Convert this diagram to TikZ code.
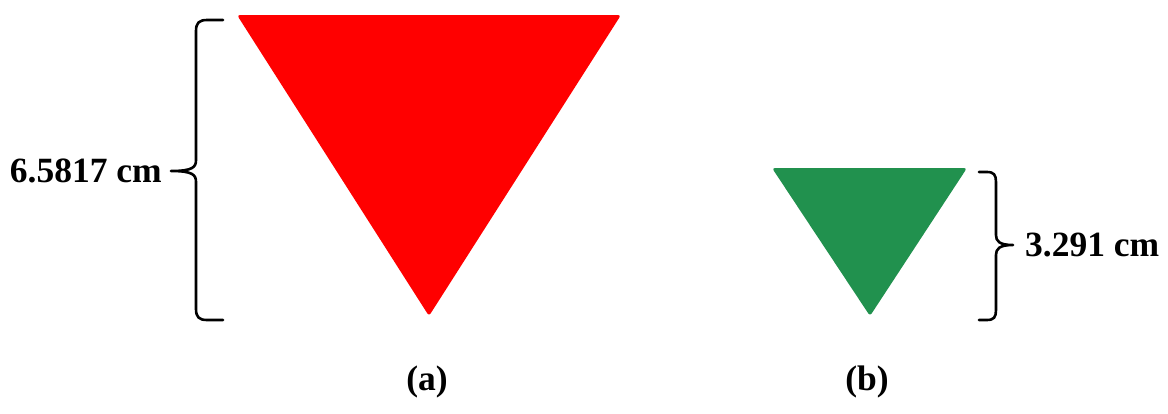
\documentclass[tikz,border=0pt]{standalone}
\usepackage{fontspec}
\setmainfont{Liberation Serif}
\definecolor{tred}{RGB}{255,0,0}
\definecolor{tgreen}{RGB}{33,145,78}
\begin{document}
\begin{tikzpicture}[x=1pt,y=-1pt,
  tri/.style={rounded corners=3pt},
  brc/.style={draw=black,line width=2.6pt,line cap=round,line join=round},
  lbl/.style={inner sep=0pt,font=\bfseries\fontsize{35.5}{40}\selectfont}]
\useasboundingbox (0,0) rectangle (1168,413);
% triangles
\fill[tred,tri] (237,15) -- (621,15) -- (429,316) -- cycle;
\fill[tgreen,tri] (772,168) -- (967,168) -- (870,316) -- cycle;
% left brace
\coordinate (la) at (223,20);
\coordinate (lt) at (171,171);
\coordinate (lb) at (223,320);
\draw[brc] (la) -- (207,20) .. controls (199,20) and (196,23) .. (196,31)
  -- (196,160) .. controls (196,167) and (193,171) .. (lt)
  .. controls (193,171) and (196,175) .. (196,182)
  -- (196,309) .. controls (196,317) and (199,320) .. (207,320) -- (lb);
% right brace
\coordinate (ra) at (979,172);
\coordinate (rt) at (1013,245);
\coordinate (rb) at (979,320);
\draw[brc] (ra) -- (987,172) .. controls (994,172) and (996,175) .. (996,182)
  -- (996,235) .. controls (996,241) and (999,245) .. (rt)
  .. controls (999,245) and (996,249) .. (996,255)
  -- (996,310) .. controls (996,317) and (994,320) .. (987,320) -- (rb);
% labels
\node[lbl,anchor=east] (h1) at (162,171) {6.5817 cm};
\node[lbl,anchor=west] (h2) at (1025,245) {3.291 cm};
\node[lbl,anchor=base] (ca) at (427,390) {(a)};
\node[lbl,anchor=base] (cb) at (867,390) {(b)};
\end{tikzpicture}
\end{document}
